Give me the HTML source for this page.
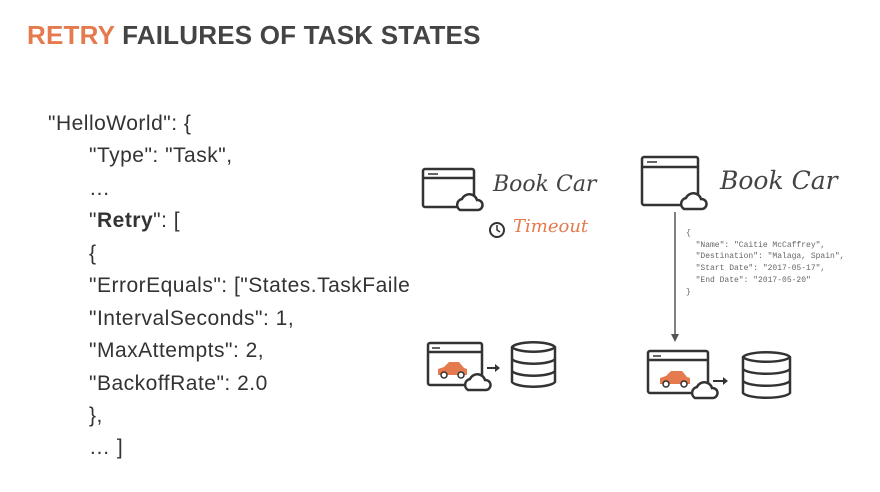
<!DOCTYPE html>
<html><head><meta charset="utf-8"><style>
body{margin:0;width:880px;height:492px;background:#fff;overflow:hidden;position:relative;font-family:"Liberation Sans",sans-serif}
.t{position:absolute;left:27px;top:20px;font-size:26px;font-weight:bold;color:#444;letter-spacing:0.2px}
.t span{color:#e57a4e}
.code{position:absolute;left:0;top:0;width:411px;height:492px;overflow:hidden}
.code div{position:absolute;font-size:21px;letter-spacing:0.5px;color:#333;white-space:nowrap}
.s{position:absolute;font-family:"DejaVu Serif",serif;font-style:italic;color:#444;white-space:nowrap}
.j{position:absolute;left:686px;top:228px;font-family:"Liberation Mono",monospace;font-size:8px;line-height:11.7px;color:#666;white-space:pre}
</style></head><body>
<div class="t"><span>RETRY</span> FAILURES OF TASK STATES</div>
<div class="code">
<div style="left:48px;top:112px">"HelloWorld": {</div>
<div style="left:89px;top:144px">"Type": "Task",</div>
<div style="left:89px;top:177px">…</div>
<div style="left:89px;top:209px">"<b>Retry</b>": [</div>
<div style="left:89px;top:242px">{</div>
<div style="left:89px;top:274px">"ErrorEquals": ["States.TaskFailed"]</div>
<div style="left:89px;top:307px">"IntervalSeconds": 1,</div>
<div style="left:89px;top:339px">"MaxAttempts": 2,</div>
<div style="left:89px;top:372px">"BackoffRate": 2.0</div>
<div style="left:89px;top:404px">},</div>
<div style="left:89px;top:436px">… ]</div>
</div>
<div class="s" style="left:493px;top:172px;font-size:22px">Book Car</div>
<div class="s" style="left:513px;top:216px;font-size:18px;color:#e57a4e">Timeout</div>
<div class="s" style="left:720px;top:166px;font-size:25px">Book Car</div>
<div class="j">{
  "Name": "Caitie McCaffrey",
  "Destination": "Malaga, Spain",
  "Start Date": "2017-05-17",
  "End Date": "2017-05-20"
}</div>
<svg width="880" height="492" style="position:absolute;left:0;top:0" fill="none" stroke="#333" stroke-width="2.5">
<defs>
<g id="cl"><path d="M-10 6 a6 6 0 0 1 2-11 a8 8 0 0 1 15 1 a5 5 0 0 1 1 10 z" fill="#fff"/></g>
</defs>
<rect x="423" y="169" width="51" height="38" rx="2"/><line x1="423" y1="178" x2="474" y2="178"/><line x1="428" y1="174" x2="438" y2="174" stroke-width="1.5"/>
<use href="#cl" x="470" y="204"/>
<circle cx="497" cy="230" r="7" stroke-width="2"/><path d="M497 225v5l3 2" stroke-width="1.5"/>
<rect x="642" y="157" width="56" height="48" rx="2"/><line x1="642" y1="167" x2="698" y2="167"/><line x1="647" y1="162" x2="657" y2="162" stroke-width="1.5"/>
<use href="#cl" x="694" y="203"/>
<line x1="675" y1="212" x2="675" y2="338" stroke-width="1.5" stroke="#555"/>
<path d="M671 334l4 8l4-8z" fill="#555" stroke="none"/>
<rect x="428" y="343" width="54" height="42" rx="2"/><line x1="428" y1="352" x2="482" y2="352"/><line x1="432" y1="348" x2="440" y2="348" stroke-width="1.5"/>
<path d="M438 375 v-6 l6-2 l5-5 h10 l5 6 l3 1 v6 z" fill="#e57a4e" stroke="none"/>
<circle cx="444" cy="375" r="3" fill="#fff" stroke-width="1.5"/><circle cx="461" cy="375" r="3" fill="#fff" stroke-width="1.5"/>
<use href="#cl" x="478" y="384"/>
<path d="M487 368h10" stroke-width="2"/><path d="M495 364l5 4l-5 4z" fill="#333" stroke="none"/>
<path d="M512 347 a22 6 0 0 1 43 0 v35 a22 6 0 0 1 -43 0 z"/><path d="M512 347 a22 6 0 0 0 43 0 M512 359 a22 6 0 0 0 43 0 M512 371 a22 6 0 0 0 43 0"/>
<rect x="648" y="351" width="60" height="42" rx="2"/><line x1="648" y1="360" x2="708" y2="360"/><line x1="653" y1="356" x2="661" y2="356" stroke-width="1.5"/>
<path d="M660 384 v-6 l6-2 l5-5 h11 l5 6 l3 1 v6 z" fill="#e57a4e" stroke="none"/>
<circle cx="666" cy="384" r="3" fill="#fff" stroke-width="1.5"/><circle cx="684" cy="384" r="3" fill="#fff" stroke-width="1.5"/>
<use href="#cl" x="705" y="392"/>
<path d="M713 381h12" stroke-width="2"/><path d="M723 377l5 4l-5 4z" fill="#333" stroke="none"/>
<path d="M743 357 a24 6 0 0 1 47 0 v36 a24 6 0 0 1 -47 0 z"/><path d="M743 357 a24 6 0 0 0 47 0 M743 369 a24 6 0 0 0 47 0 M743 381 a24 6 0 0 0 47 0"/>
</svg>
</body></html>
